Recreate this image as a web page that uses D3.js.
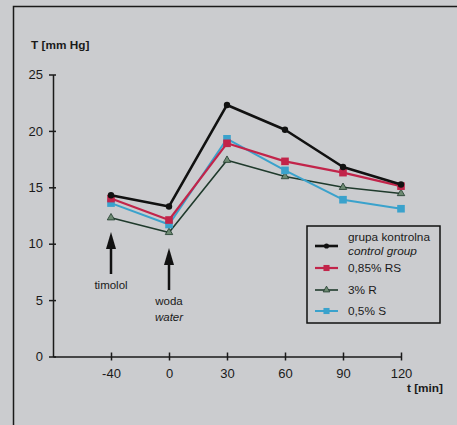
<!DOCTYPE html>
<html>
<head>
<meta charset="utf-8">
<script src="https://cdn.jsdelivr.net/npm/d3@7"></script>
<style>
  body { margin: 0; background: #cbcccf; }
  svg { display: block; font-family: "Liberation Sans", Arial, sans-serif; }
</style>
</head>
<body>
<div id="chart"></div>
<script>
// time points (categorical, evenly spaced)
const times = ["-40", "0", "30", "60", "90", "120"];
const yTicks = [0, 5, 10, 15, 20, 25];

const control = [14.3, 13.3, 22.3, 20.1, 16.8, 15.25];
const rs085 = [14.0, 12.1, 18.9, 17.3, 16.3, 15.1];
const r3 = [12.3, 11.0, 17.4, 15.95, 15.0, 14.45];
const s05 = [13.6, 11.7, 19.3, 16.5, 13.9, 13.1];

const width = 457,
  height = 425;

const svg = d3
  .select("#chart")
  .append("svg")
  .attr("width", width)
  .attr("height", height);

// frame
svg
  .append("path")
  .attr("d", "M13.5,425 L13.5,6.5 L457,6.5")
  .attr("fill", "none")
  .attr("stroke", "#1a1a1a")
  .attr("stroke-width", 1.5);

// scales: index -1 is where the y axis sits
const x = d3.scaleLinear().domain([-1, 5]).range([53, 401]);
const y = d3.scaleLinear().domain([0, 25]).range([356.5, 74.5]);

// y axis
const yAxis = svg
  .append("g")
  .attr("transform", `translate(${x(-1)},0)`)
  .call(
    d3
      .axisLeft(y)
      .tickValues(yTicks)
      .tickSize(4)
      .tickSizeOuter(0)
  );
yAxis.select(".domain").attr("stroke", "#1a1a1a").attr("stroke-width", 1.5);
yAxis
  .selectAll(".tick line")
  .attr("x1", -4)
  .attr("x2", 3)
  .attr("stroke", "#1a1a1a")
  .attr("stroke-width", 1.5);
yAxis
  .selectAll(".tick text")
  .attr("x", -10)
  .attr("font-size", 13)
  .attr("fill", "#1a1a1a");

// x axis
const xAxis = svg
  .append("g")
  .attr("transform", `translate(0,${y(0)})`)
  .call(
    d3
      .axisBottom(x)
      .tickValues(d3.range(times.length))
      .tickFormat(i => times[i])
      .tickSize(4)
      .tickSizeOuter(0)
  );
xAxis.select(".domain").attr("stroke", "#1a1a1a").attr("stroke-width", 1.5);
xAxis
  .selectAll(".tick line")
  .attr("y1", -4)
  .attr("y2", 4)
  .attr("stroke", "#1a1a1a")
  .attr("stroke-width", 1.5);
xAxis
  .selectAll(".tick text")
  .attr("y", 12)
  .attr("font-size", 13)
  .attr("fill", "#1a1a1a");

// axis titles
svg
  .append("text")
  .attr("x", 31)
  .attr("y", 49)
  .attr("font-size", 11.8)
  .attr("font-weight", "bold")
  .attr("fill", "#1a1a1a")
  .text("T [mm Hg]");
svg
  .append("text")
  .attr("x", 443)
  .attr("y", 392)
  .attr("text-anchor", "end")
  .attr("font-size", 11.8)
  .attr("font-weight", "bold")
  .attr("fill", "#1a1a1a")
  .text("t [min]");

// series styles
const styles = {
  control: { values: control, color: "#111111", fill: "#111111", w: 2.6, marker: "circle" },
  rs: { values: rs085, color: "#c2244a", fill: "#c2244a", w: 2.2, marker: "square" },
  r: { values: r3, color: "#1f3a2c", fill: "#6d8a72", w: 1.6, marker: "triangle" },
  s: { values: s05, color: "#3aa2cc", fill: "#3aa2cc", w: 2.0, marker: "square" }
};

const line = d3
  .line()
  .x((d, i) => x(i))
  .y(d => y(d));

const drawMarker = (g, type, fill, stroke, cx, cy, s = 1) => {
  if (type === "circle") {
    g.append("circle").attr("cx", cx).attr("cy", cy).attr("r", 3.2 * s).attr("fill", fill);
  } else if (type === "square") {
    g.append("rect")
      .attr("x", cx - 3.8 * s)
      .attr("y", cy - 3.8 * s)
      .attr("width", 7.6 * s)
      .attr("height", 7.6 * s)
      .attr("fill", fill);
  } else {
    g.append("path")
      .attr("d", d3.symbol().type(d3.symbolTriangle).size(24 * s)())
      .attr("transform", `translate(${cx},${cy})`)
      .attr("fill", fill)
      .attr("stroke", stroke)
      .attr("stroke-width", 0.8);
  }
};

// draw in order: green, blue, red, black on top
["r", "s", "rs", "control"].forEach(key => {
  const st = styles[key];
  const g = svg.append("g");
  g.append("path")
    .datum(st.values)
    .attr("d", line)
    .attr("fill", "none")
    .attr("stroke", st.color)
    .attr("stroke-width", st.w)
    .attr("stroke-linejoin", "round");
  st.values.forEach((v, i) => drawMarker(g, st.marker, st.fill, st.color, x(i), y(v)));
});

// arrows
const arrow = (cx, yBottom, yTop) => {
  svg
    .append("line")
    .attr("x1", cx)
    .attr("x2", cx)
    .attr("y1", yBottom)
    .attr("y2", yTop + 12)
    .attr("stroke", "#111")
    .attr("stroke-width", 2.5);
  svg
    .append("path")
    .attr("d", `M${cx},${yTop} L${cx - 5},${yTop + 17} L${cx + 5},${yTop + 17} Z`)
    .attr("fill", "#111");
};
arrow(x(0), 274, 232);
arrow(x(1), 290, 248);

const annot = (cx, cy, txt, italic) =>
  svg
    .append("text")
    .attr("x", cx)
    .attr("y", cy)
    .attr("text-anchor", "middle")
    .attr("font-size", 11.5)
    .attr("font-style", italic ? "italic" : "normal")
    .attr("fill", "#1a1a1a")
    .text(txt);
annot(x(0), 289, "timolol");
annot(x(1), 305, "woda");
annot(x(1), 321, "water", true);

// legend
const legend = svg.append("g");
legend
  .append("rect")
  .attr("x", 307)
  .attr("y", 226)
  .attr("width", 133)
  .attr("height", 97)
  .attr("fill", "none")
  .attr("stroke", "#111")
  .attr("stroke-width", 1.5);

const legendRows = [
  { key: "control", y: 246, labels: ["grupa kontrolna", "control group"] },
  { key: "rs", y: 268, labels: ["0,85% RS"] },
  { key: "r", y: 290, labels: ["3% R"] },
  { key: "s", y: 311, labels: ["0,5% S"] }
];
legendRows.forEach(row => {
  const st = styles[row.key];
  legend
    .append("line")
    .attr("x1", 315)
    .attr("x2", 338)
    .attr("y1", row.y)
    .attr("y2", row.y)
    .attr("stroke", st.color)
    .attr("stroke-width", st.w);
  drawMarker(legend, st.marker, st.fill, st.color, 326.5, row.y, 0.8);
  if (row.labels.length === 2) {
    legend
      .append("text")
      .attr("x", 348)
      .attr("y", row.y - 5)
      .attr("font-size", 11.8)
      .attr("fill", "#1a1a1a")
      .text(row.labels[0]);
    legend
      .append("text")
      .attr("x", 348)
      .attr("y", row.y + 9)
      .attr("font-size", 11.8)
      .attr("font-style", "italic")
      .attr("fill", "#1a1a1a")
      .text(row.labels[1]);
  } else {
    legend
      .append("text")
      .attr("x", 348)
      .attr("y", row.y + 4)
      .attr("font-size", 11.8)
      .attr("fill", "#1a1a1a")
      .text(row.labels[0]);
  }
});
</script>
</body>
</html>
